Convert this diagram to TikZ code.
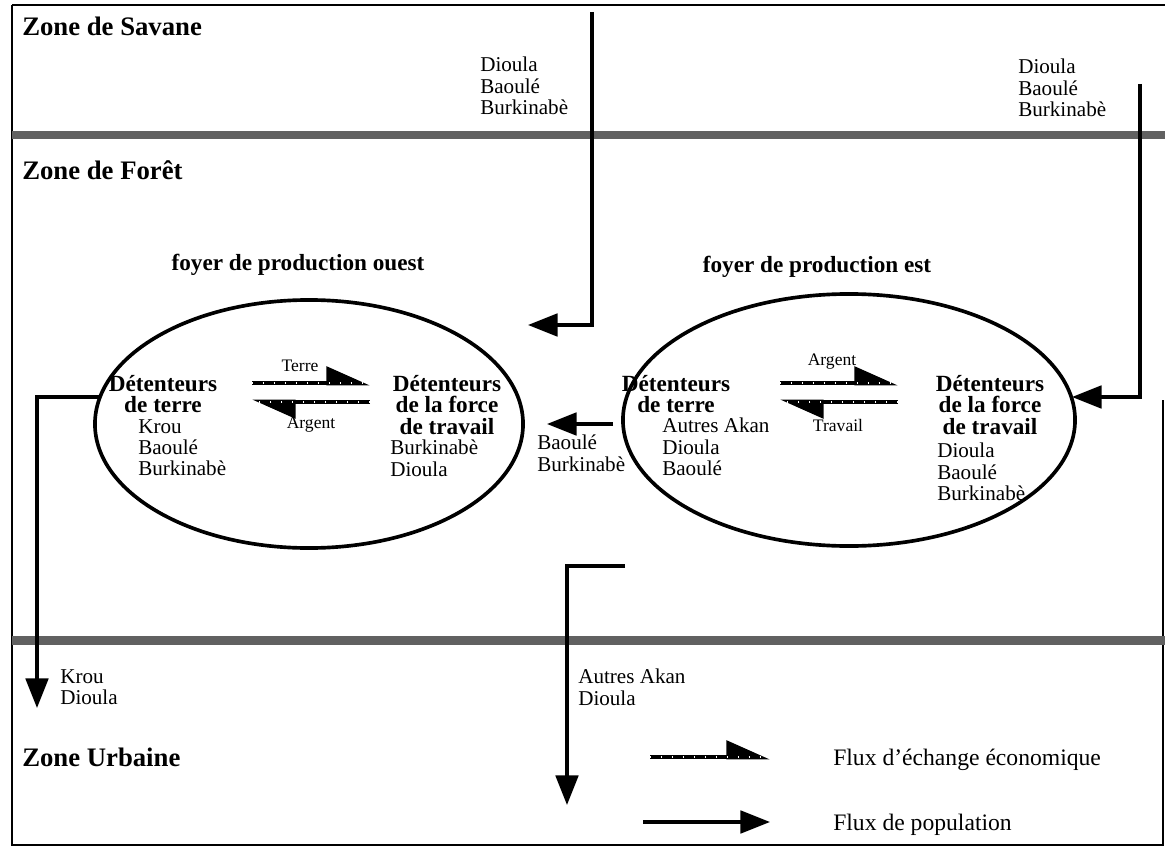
\documentclass[tikz,border=0pt]{standalone}
\usepackage{fontspec}
\setmainfont{Liberation Serif}
\usetikzlibrary{arrows.meta,shapes.geometric}

\tikzset{
  zonetitre/.style={anchor=west, inner sep=0pt, font=\fontsize{19}{19}\selectfont\bfseries},
  foyertitre/.style={inner sep=0pt, font=\fontsize{16.5}{16.5}\selectfont\bfseries},
  liste/.style={anchor=north west, align=left, inner sep=0pt, font=\fontsize{15}{15}\selectfont},
  detenteur/.style={align=center, inner sep=0pt, font=\fontsize{16.5}{15}\selectfont\bfseries},
  petit/.style={inner sep=0pt, font=\fontsize{12.5}{12.5}\selectfont},
  legende/.style={anchor=west, inner sep=0pt, font=\fontsize{16.8}{16.8}\selectfont},
  foyer/.style={draw, ellipse, line width=2.6pt, inner sep=0pt},
  echange/.style={line width=3.4pt, -{Triangle[harpoon, length=27pt, width=23pt]},
    postaction={draw=white, line width=0.8pt, dash pattern=on 0.8pt off 7pt, arrows=-}},
  flux/.style={line width=2.4pt, line join=miter, -{Triangle[length=21pt, width=16pt]}},
  bande/.style={fill=black!62},
  cadre/.style={line width=1.4pt}
}

\begin{document}
\begin{tikzpicture}[x=0.025cm, y=-0.025cm]
\useasboundingbox (0,0) rectangle (1165,847);

% ---------------- cadre et bandes ----------------
\draw[cadre] (12,5) -- (1165,5);
\draw[cadre] (12,5) -- (12,845) -- (1163,845) -- (1163,400);
\fill[bande] (12,131) rectangle (1165,139);
\fill[bande] (12,636) rectangle (1165,645);

% ---------------- zones ----------------
\node[zonetitre] (savane) at (22,26) {Zone de Savane};
\node[zonetitre] (foret) at (22,170) {Zone de Forêt};
\node[zonetitre] (urbaine) at (22,757) {Zone Urbaine};

\node[liste] (sav1) at (480,57) {Dioula\\Baoulé\\Burkinabè};
\node[liste] (sav2) at (1018,59) {Dioula\\Baoulé\\Burkinabè};

% ---------------- foyers ----------------
\node[foyertitre] (touest) at (298,265) {foyer de production ouest};
\node[foyertitre] (test) at (817,267) {foyer de production est};
\node[foyer, minimum width=10.7cm, minimum height=6.2cm] (ouest) at (309,424) {};
\node[foyer, minimum width=11.3cm, minimum height=6.3cm] (est) at (849,420) {};

% foyer ouest
\node[detenteur] (oterre) at (163,394) {Détenteurs\\de terre};
\node[detenteur] (otravail) at (447,405) {Détenteurs\\de la force\\de travail};
\node[liste] (olist1) at (138,419) {Krou\\Baoulé\\Burkinabè};
\node[liste] (olist2) at (390,440) {Burkinabè\\Dioula};
\coordinate (oa1) at (252,383); \coordinate (oa2) at (370,383);
\coordinate (ob1) at (370,402); \coordinate (ob2) at (252,402);
\draw[echange] (oa1) -- (oa2);
\draw[echange] (ob1) -- (ob2);
\node[petit] (oterreL) at (300,366) {Terre};
\node[petit] (oargL) at (311,425) {Argent};

% foyer est
\node[detenteur] (eterre) at (676,394) {Détenteurs\\de terre};
\node[detenteur] (etravail) at (990,405) {Détenteurs\\de la force\\de travail};
\node[liste] (elist1) at (662,418) {Autres Akan\\Dioula\\Baoulé};
\node[liste] (elist2) at (937,443) {Dioula\\Baoulé\\Burkinabè};
\coordinate (ea1) at (780,383); \coordinate (ea2) at (898,383);
\coordinate (eb1) at (898,402); \coordinate (eb2) at (780,402);
\draw[echange] (ea1) -- (ea2);
\draw[echange] (eb1) -- (eb2);
\node[petit] (eargL) at (832,362) {Argent};
\node[petit] (etravL) at (838,425) {Travail};

% ---------------- flux de population ----------------
\coordinate (s1) at (592,12); \coordinate (s1b) at (592,325); \coordinate (s1e) at (528,325);
\draw[flux] (s1) -- (s1b) -- (s1e);
\coordinate (s2) at (1140,84); \coordinate (s2b) at (1140,397); \coordinate (s2e) at (1072,397);
\draw[flux] (s2) -- (s2b) -- (s2e);
\coordinate (m1) at (613,424); \coordinate (m1e) at (547,424);
\draw[flux] (m1) -- (m1e);
\node[liste] (mlist) at (537,435) {Baoulé\\Burkinabè};
\coordinate (u1) at (100,397); \coordinate (u1b) at (37,397); \coordinate (u1e) at (37,708);
\draw[flux] (u1) -- (u1b) -- (u1e);
\node[liste] (ulist1) at (60,669) {Krou\\Dioula};
\coordinate (u2) at (625,566); \coordinate (u2b) at (567,566); \coordinate (u2e) at (567,805);
\draw[flux] (u2) -- (u2b) -- (u2e);
\node[liste] (ulist2) at (578,669) {Autres Akan\\Dioula};

% ---------------- legende ----------------
\coordinate (la1) at (650,757); \coordinate (la2) at (770,757);
\draw[echange] (la1) -- (la2);
\node[legende] (leg1) at (833,760) {Flux d'échange économique};
\coordinate (lb1) at (643,822); \coordinate (lb2) at (770,822);
\draw[flux] (lb1) -- (lb2);
\node[legende] (leg2) at (833,825) {Flux de population};

\end{tikzpicture}
\end{document}
